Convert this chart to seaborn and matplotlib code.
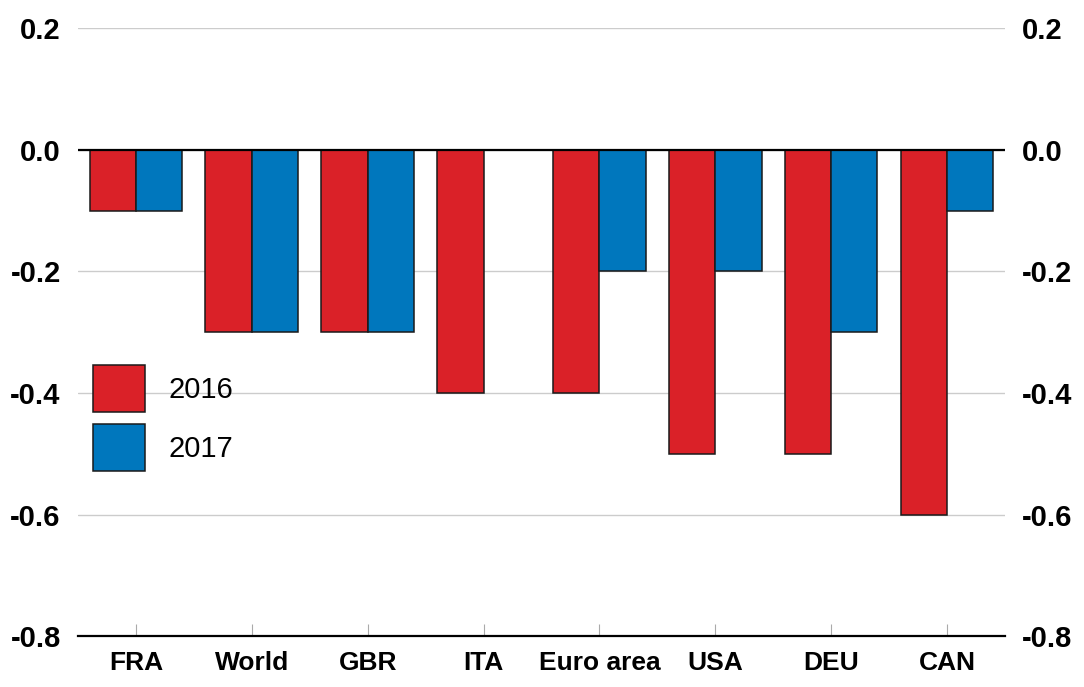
import matplotlib
matplotlib.use("Agg")
import matplotlib.pyplot as plt
import seaborn as sns
import pandas as pd

# values
countries = ["FRA", "World", "GBR", "ITA", "Euro area", "USA", "DEU", "CAN"]
vals_2016 = [-0.1, -0.3, -0.3, -0.4, -0.4, -0.5, -0.5, -0.6]
vals_2017 = [-0.1, -0.3, -0.3, 0.0, -0.2, -0.2, -0.3, -0.1]
years = ["2016", "2017"]
y_ticks = [0.2, 0.0, -0.2, -0.4, -0.6, -0.8]

RED = "#DA2128"
BLUE = "#0077BD"

df = pd.DataFrame({
    "country": countries * 2,
    "year": [years[0]] * len(countries) + [years[1]] * len(countries),
    "value": vals_2016 + vals_2017,
})

sns.set_style("white", {"text.color": "black", "xtick.color": "black",
                        "ytick.color": "black"})
plt.rcParams["font.family"] = ["Liberation Sans Narrow", "Liberation Sans", "DejaVu Sans"]

fig = plt.figure(figsize=(10.84, 6.87), dpi=100)
ax = fig.add_axes([0.072, 0.074, 0.855, 0.885])

sns.barplot(data=df, x="country", y="value", hue="year", order=countries,
            hue_order=years, palette=[RED, BLUE], saturation=1, width=0.8,
            edgecolor="#1a1a1a", linewidth=1.1, ax=ax, zorder=3)

ax.set_xlim(-0.5, len(countries) - 0.5)
ax.set_ylim(-0.8, 0.2)
ax.set_yticks(y_ticks)
ax.set_yticklabels([f"{t:.1f}" for t in y_ticks])
ax.yaxis.grid(True, color="#cccccc", linewidth=1.0, zorder=0)
ax.axhline(0, color="black", linewidth=1.6, zorder=4)

for side in ["left", "right", "top"]:
    ax.spines[side].set_visible(False)
ax.spines["bottom"].set_color("black")
ax.spines["bottom"].set_linewidth(1.6)
ax.spines["bottom"].set_zorder(5)

ax.tick_params(axis="y", left=False, right=False, labelleft=True,
               labelright=True, labelsize=21, pad=9, labelcolor="black")
ax.tick_params(axis="x", bottom=True, direction="in", length=9,
               color="#aaaaaa", labelsize=19, pad=11, labelcolor="black")
for t in ax.yaxis.get_major_ticks():
    t.label1.set_fontweight("bold")
    t.label2.set_fontweight("bold")
for lab in ax.get_xticklabels():
    lab.set_fontweight("bold")

ax.set_xlabel("")
ax.set_ylabel("")

leg = ax.legend(loc="upper left", bbox_to_anchor=(0.016, 0.446), frameon=False,
                fontsize=21, handlelength=1.8, handleheight=2.1, labelspacing=0.42,
                handletextpad=0.8, borderpad=0, borderaxespad=0)
for txt in leg.get_texts():
    txt.set_color("black")

fig.savefig("out.png", dpi=100)
